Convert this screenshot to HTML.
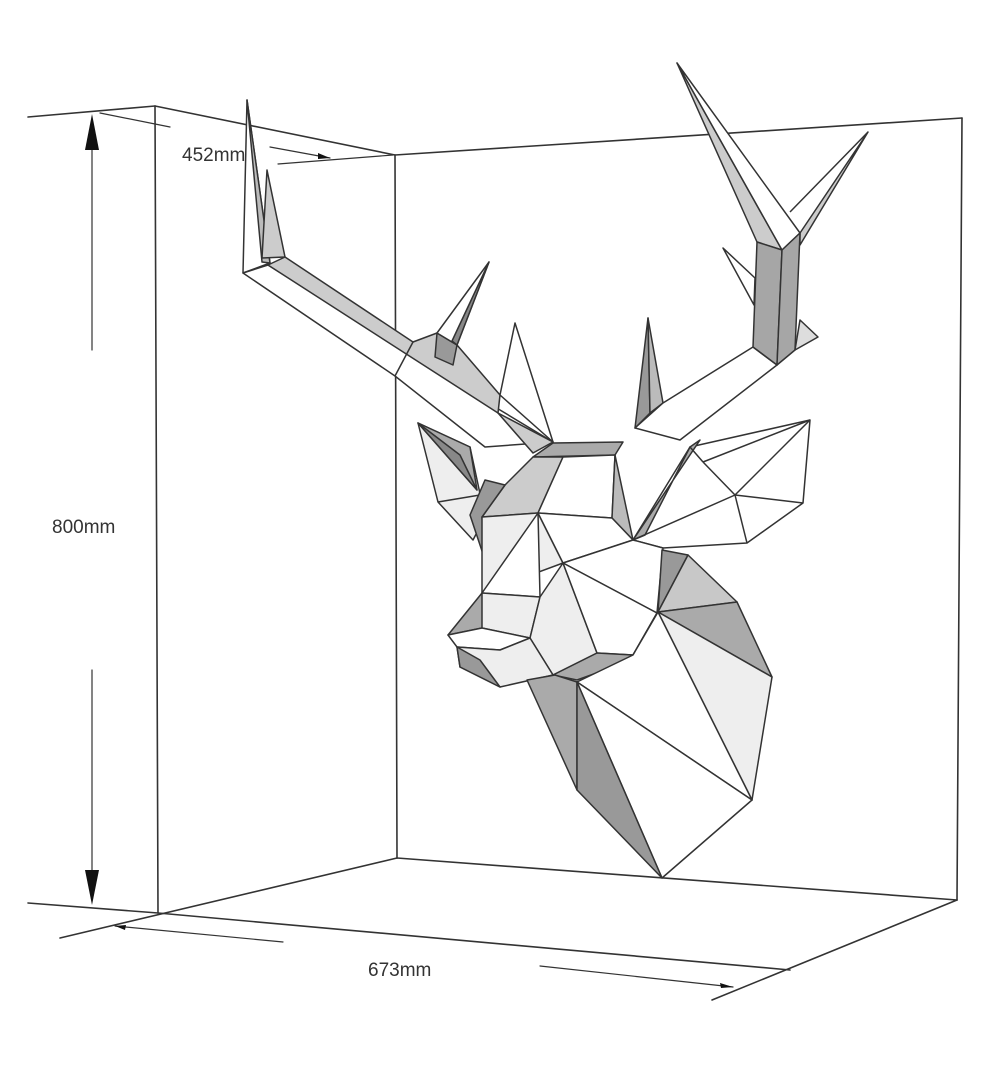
<!DOCTYPE html>
<html><head><meta charset="utf-8"><style>
html,body{margin:0;padding:0;background:#fff;}
svg{display:block;}
text{font-family:"Liberation Sans",sans-serif;fill:#333;}
</style></head><body>
<svg width="1000" height="1092" viewBox="0 0 1000 1092" xmlns="http://www.w3.org/2000/svg">
<g stroke="#333" stroke-width="1.6" fill="none" stroke-linecap="round">
<!-- box -->
<line x1="28" y1="117" x2="155" y2="106"/>
<line x1="155" y1="106" x2="395" y2="155"/>
<line x1="155" y1="106" x2="158" y2="913"/>
<line x1="395" y1="155" x2="397" y2="858"/>
<line x1="395" y1="155" x2="962" y2="118"/>
<line x1="962" y1="118" x2="957" y2="900"/>
<line x1="397" y1="858" x2="957" y2="900"/>
<line x1="28" y1="903" x2="158" y2="913"/>
<line x1="158" y1="913" x2="790" y2="970"/>
<line x1="60" y1="938" x2="397" y2="858"/>
<line x1="957" y1="900" x2="712" y2="1000"/>
<!-- dimension lines -->
<line x1="100" y1="113" x2="170" y2="127" stroke-width="1.2"/>
<line x1="270" y1="147" x2="330" y2="158" stroke-width="1.2"/>
<line x1="278" y1="164" x2="393" y2="155" stroke-width="1.2"/>
<line x1="115" y1="926" x2="283" y2="942" stroke-width="1.2"/>
<line x1="540" y1="966" x2="733" y2="987" stroke-width="1.2"/>
<line x1="92" y1="140" x2="92" y2="350" stroke-width="1.2"/>
<line x1="92" y1="670" x2="92" y2="880" stroke-width="1.2"/>
</g>
<polygon points="92,114 85,150 99,150" fill="#111"/>
<polygon points="92,905 85,870 99,870" fill="#111"/>
<polygon points="330,158 318,153 318,159" fill="#111"/>
<polygon points="115,926 126,925 125,930" fill="#111"/>
<polygon points="733,987 720,983 721,988" fill="#111"/>
<text x="182" y="161" font-size="19">452mm</text>
<text x="52" y="533" font-size="19">800mm</text>
<text x="368" y="976" font-size="19">673mm</text>

<g stroke="#333" stroke-width="1.5" stroke-linejoin="round">
<!-- left antler -->
<polygon points="247,100 243,273 270,263" fill="#fff"/>
<polygon points="247,100 270,263 262,262" fill="#bbb"/>
<polygon points="267,170 262,258 285,257" fill="#ccc"/>
<polygon points="243,273 268,265 500,410 553,442 485,447 395,376" fill="#fff"/>
<polygon points="268,265 285,257 413,342 437,333 457,345 500,395 498,413" fill="#ccc"/>
<polygon points="437,333 457,345 453,365 435,357" fill="#999"/>
<polygon points="489,262 437,333 457,345" fill="#fff"/>
<polygon points="489,262 457,345 452,341" fill="#888"/>
<polygon points="500,395 515,323 553,442" fill="#fff"/>
<polygon points="498,413 553,442 533,453" fill="#ccc"/>
<line x1="395" y1="376" x2="413" y2="342"/>
<!-- center-right spike -->
<polygon points="648,318 635,428 650,413" fill="#999"/>
<polygon points="648,318 650,413 663,403" fill="#bbb"/>
<!-- right antler -->
<polygon points="663,403 753,347 777,365 680,440 635,428" fill="#fff"/>
<polygon points="677,63 757,242 782,250" fill="#ccc"/>
<polygon points="677,63 782,250 800,233" fill="#fff"/>
<polygon points="868,132 800,233 800,245" fill="#ccc"/>
<line x1="790" y1="212" x2="868" y2="132"/>
<polygon points="723,248 755,278 754,305" fill="#fff"/>
<polygon points="757,242 782,250 777,365 753,347" fill="#a6a6a6"/>
<polygon points="782,250 800,233 795,350 777,365" fill="#a6a6a6"/>
<polygon points="800,320 818,337 795,350" fill="#ddd"/>
<!-- left ear -->
<polygon points="418,423 470,447 485,517 473,540 438,502" fill="#eee"/>
<polygon points="418,423 470,447 477,490" fill="#aaa"/>
<polygon points="418,423 460,455 477,490" fill="#888"/>
<line x1="438" y1="502" x2="480" y2="495"/>
<!-- right ear -->
<polygon points="690,447 810,420 803,503 747,543 663,548 633,540" fill="#fff"/>
<polygon points="690,447 700,440 633,540 645,535" fill="#aaa"/>
<line x1="690" y1="447" x2="703" y2="462"/><line x1="703" y1="462" x2="810" y2="420"/>
<line x1="703" y1="462" x2="735" y2="495"/><line x1="735" y1="495" x2="810" y2="420"/>
<line x1="735" y1="495" x2="803" y2="503"/><line x1="735" y1="495" x2="747" y2="543"/>
<line x1="735" y1="495" x2="633" y2="540"/>
<!-- head -->
<polygon points="553,443 623,442 615,455 533,457" fill="#aaa"/>
<polygon points="533,457 563,457 538,513 482,517 505,485" fill="#ccc"/>
<polygon points="563,457 615,455 612,518 538,513" fill="#fff"/>
<polygon points="615,455 633,540 612,518" fill="#bbb"/>
<polygon points="505,485 482,517 485,560 470,515 485,480" fill="#999"/>
<polygon points="482,517 538,513 563,563 482,593" fill="#eee"/>
<polygon points="538,513 612,518 633,540 563,563" fill="#fff"/>
<polygon points="633,540 663,548 657,613 563,563" fill="#fff"/>
<polygon points="538,513 482,593 540,597" fill="#fff"/>
<polygon points="482,593 448,635 482,628 530,605" fill="#aaa"/>
<polygon points="482,593 540,597 530,638 482,628" fill="#eee"/>
<polygon points="540,597 563,563 597,653 553,675 530,638" fill="#eee"/>
<polygon points="563,563 657,613 633,655 597,653" fill="#fff"/>
<polygon points="448,635 482,628 530,638 500,650 457,647" fill="#fff"/>
<polygon points="457,647 500,650 530,638 553,675 500,687 460,667" fill="#eee"/>
<polygon points="457,647 480,660 500,687 460,667" fill="#999"/>
<polygon points="597,653 633,655 657,613 633,660 577,680 553,675" fill="#aaa"/>
<!-- neck -->
<polygon points="662,550 688,555 658,612" fill="#999"/>
<polygon points="688,555 737,602 658,612" fill="#c8c8c8"/>
<polygon points="658,612 737,602 772,677" fill="#aaa"/>
<polygon points="658,612 772,677 752,800" fill="#eee"/>
<polygon points="658,612 752,800 577,682 633,655" fill="#fff"/>
<polygon points="577,682 752,800 662,878" fill="#fff"/>
<polygon points="527,680 555,675 577,682 577,790" fill="#aaa"/>
<polygon points="577,682 662,878 577,790" fill="#999"/>
</g>
</svg>
</body></html>
